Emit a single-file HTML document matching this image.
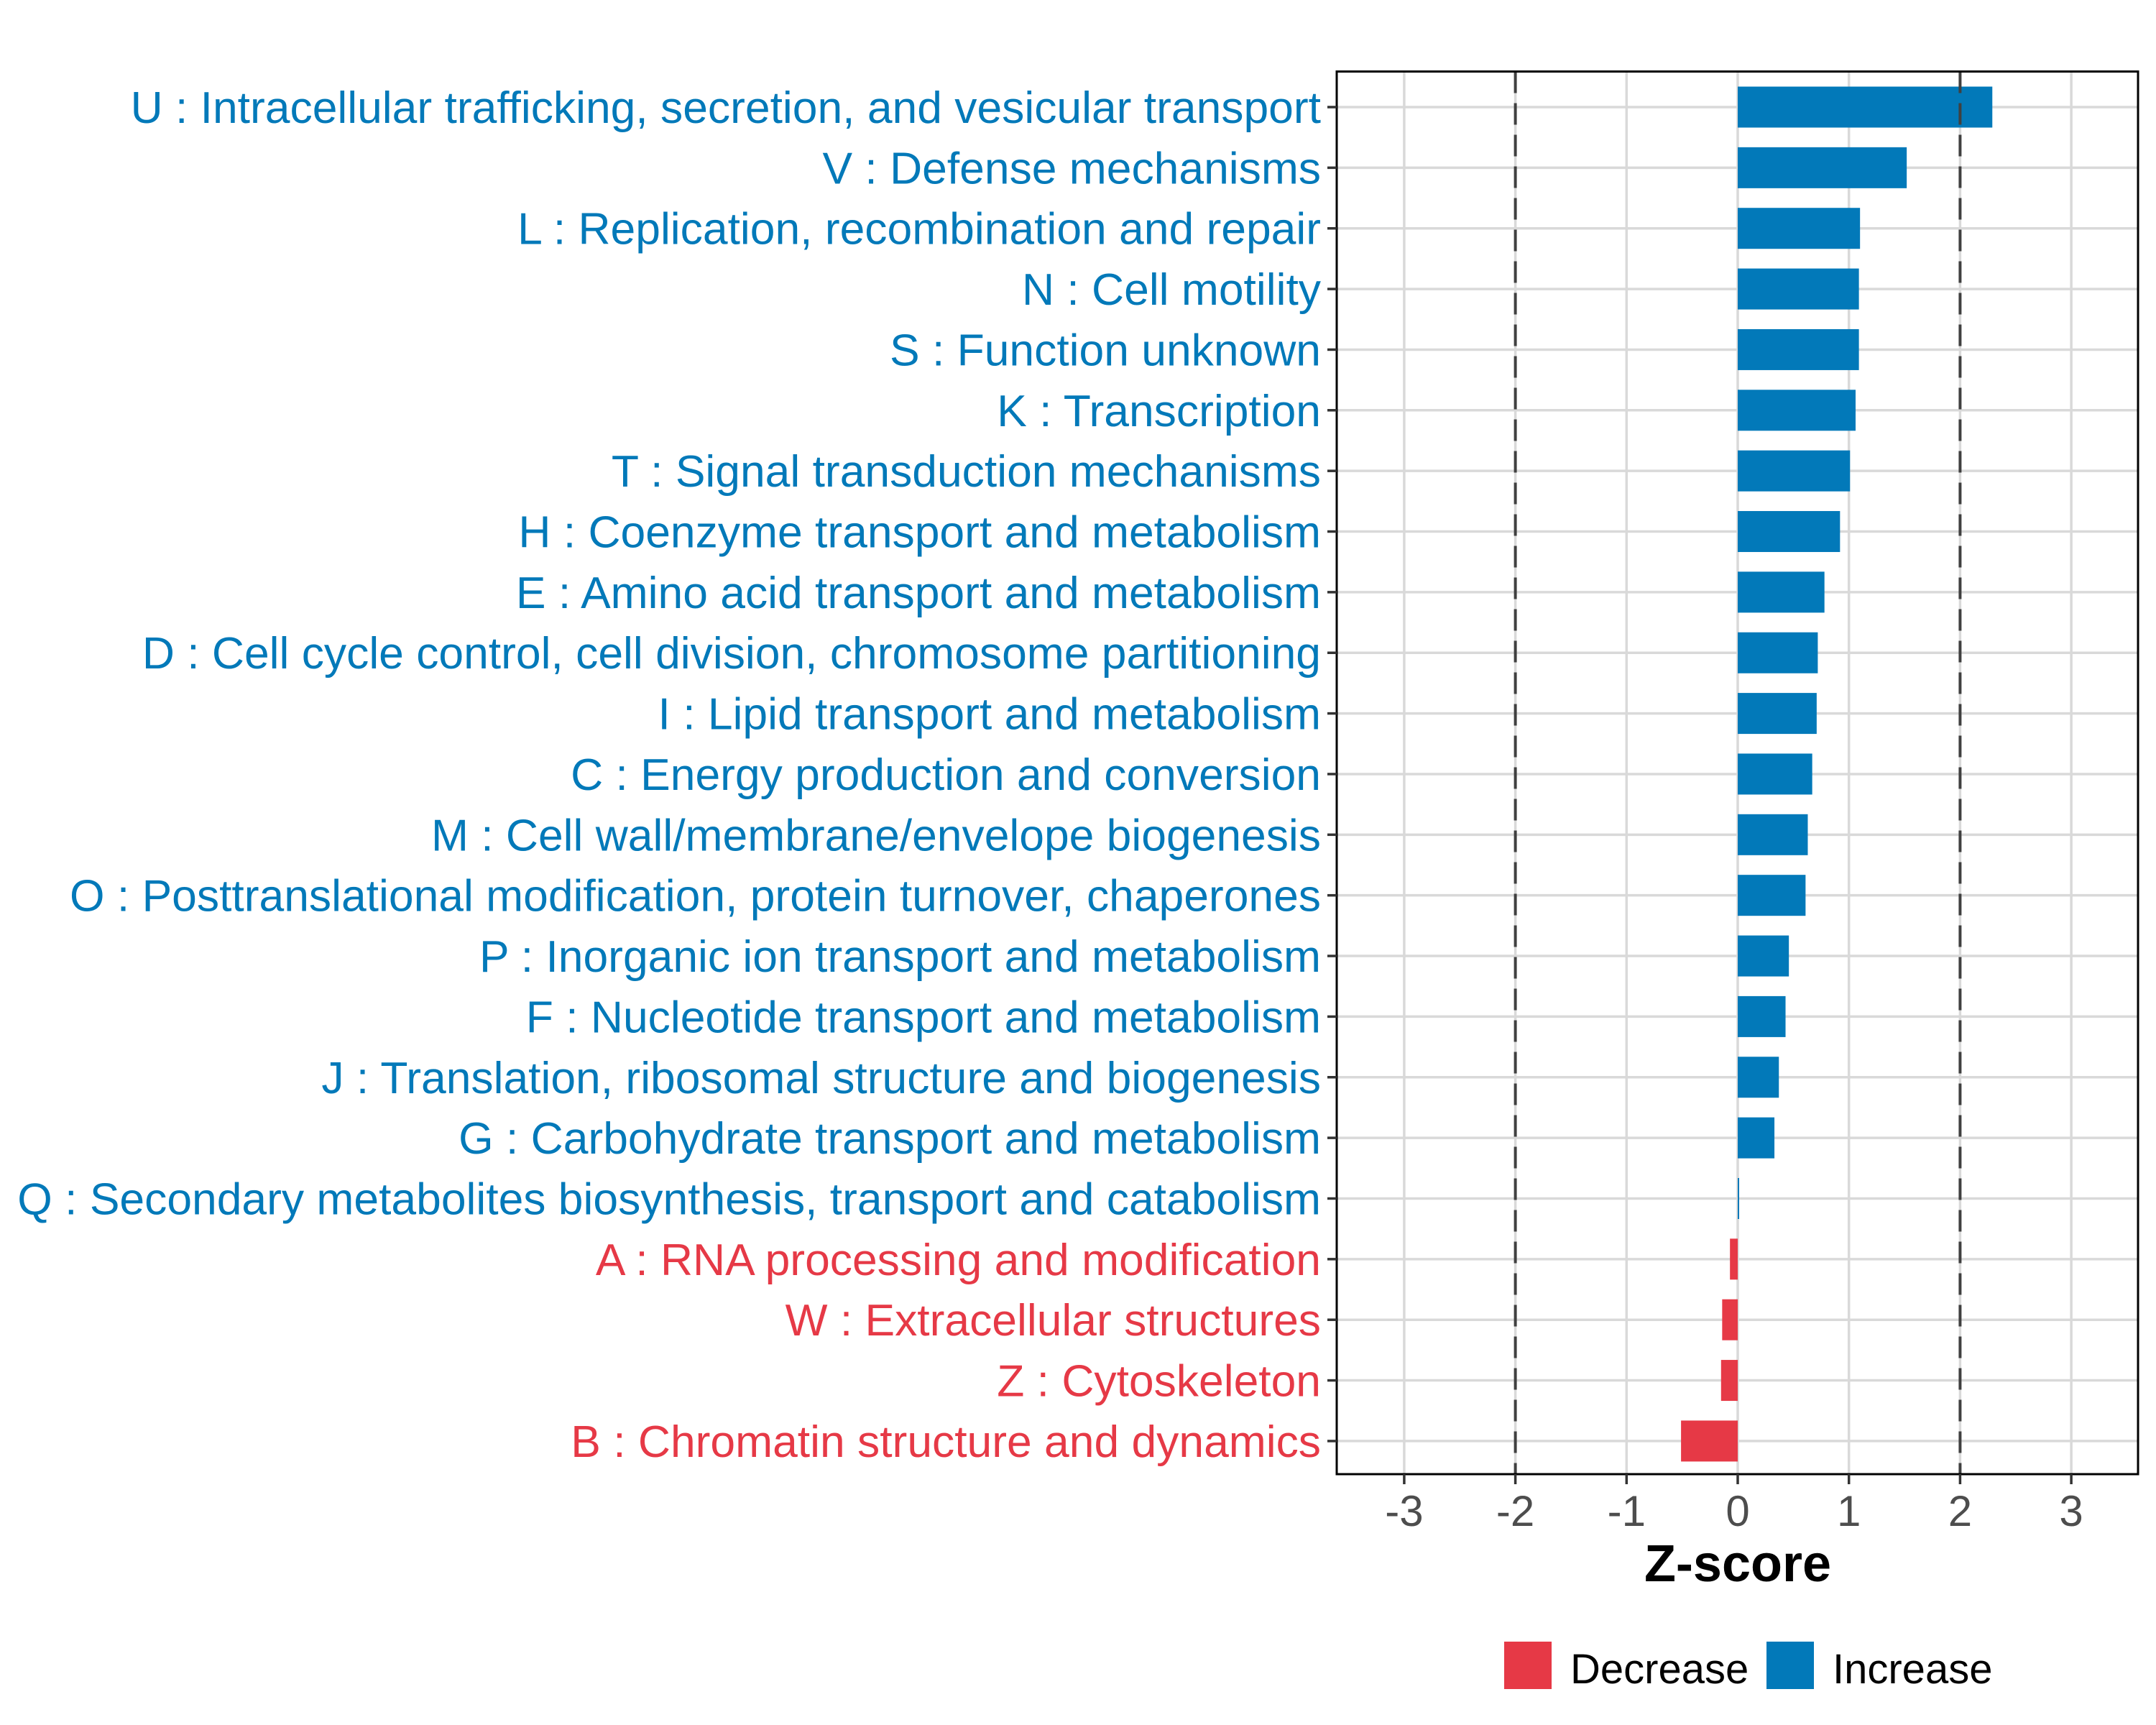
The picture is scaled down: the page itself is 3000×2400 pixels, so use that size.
<!DOCTYPE html>
<html><head><meta charset="utf-8"><style>
html,body{margin:0;padding:0;background:#fff}
svg{display:block}
text{font-family:"Liberation Sans",Arial,sans-serif}
</style></head><body>
<svg id="chart" width="3000" height="2400" viewBox="0 0 3000 2400" xmlns="http://www.w3.org/2000/svg">
<rect x="0" y="0" width="3000" height="2400" fill="#fff"/>
<g id="grid"></g>
<g id="bars"></g>
<g id="refs"></g>
<rect x="1860" y="99.5" width="1115" height="1951.5" fill="none" stroke="#000" stroke-width="3"/>
<g id="ylabels"></g>
<g id="xticks"></g>
<text x="2418" y="2200" font-size="72" font-weight="bold" text-anchor="middle" fill="#000">Z-score</text>
<g>
<rect x="2093" y="2284" width="66" height="66" fill="#E63946"/>
<text x="2185" y="2342" font-size="58" fill="#000">Decrease</text>
<rect x="2458" y="2284" width="66" height="66" fill="#0279B9"/>
<text x="2550" y="2342" font-size="58" fill="#000">Increase</text>
</g>
</svg>
<script>
const categories = ["U : Intracellular trafficking, secretion, and vesicular transport","V : Defense mechanisms","L : Replication, recombination and repair","N : Cell motility","S : Function unknown","K : Transcription","T : Signal transduction mechanisms","H : Coenzyme transport and metabolism","E : Amino acid transport and metabolism","D : Cell cycle control, cell division, chromosome partitioning","I : Lipid transport and metabolism","C : Energy production and conversion","M : Cell wall/membrane/envelope biogenesis","O : Posttranslational modification, protein turnover, chaperones","P : Inorganic ion transport and metabolism","F : Nucleotide transport and metabolism","J : Translation, ribosomal structure and biogenesis","G : Carbohydrate transport and metabolism","Q : Secondary metabolites biosynthesis, transport and catabolism","A : RNA processing and modification","W : Extracellular structures","Z : Cytoskeleton","B : Chromatin structure and dynamics"];
const zscores = [2.29,1.52,1.10,1.09,1.09,1.06,1.01,0.92,0.78,0.72,0.71,0.67,0.63,0.61,0.46,0.43,0.37,0.33,0.01,-0.07,-0.14,-0.15,-0.51];
const xTicks = [-3,-2,-1,0,1,2,3];
const xTickLabels = ["-3","-2","-1","0","1","2","3"];
const refLines = [-2,2];

const NS="http://www.w3.org/2000/svg";
const X0=2418, UNIT=154.7, Y0=149, STEP=84.36, BARH=57;
const PL=1860, PR=2975, PT=99.5, PB=2051;
function xs(v){return X0+v*UNIT;}
function ys(i){return Y0+i*STEP;}
function mk(tag,attrs,parent){const e=document.createElementNS(NS,tag);for(const k in attrs)e.setAttribute(k,attrs[k]);parent.appendChild(e);return e;}
const grid=document.getElementById('grid'),bars=document.getElementById('bars'),refs=document.getElementById('refs'),yl=document.getElementById('ylabels'),xt=document.getElementById('xticks');
xTicks.forEach((t,i)=>{
  const l=mk('line',{x1:xs(t),x2:xs(t),y1:PT,y2:PB,stroke:'#D9D9D9','stroke-width':3.5},grid);
  
  
  const tk=mk('line',{x1:xs(t),x2:xs(t),y1:PB,y2:PB+14,stroke:'#333','stroke-width':3.5},xt);
  
  
  const tx=mk('text',{x:xs(t),y:2123,'font-size':60,'text-anchor':'middle',fill:'#4D4D4D'},xt);
  tx.textContent=xTickLabels[i];
  
  
});
categories.forEach((c,i)=>{
  const y=ys(i), v=zscores[i];
  const g=mk('line',{x1:PL,x2:PR,y1:y,y2:y,stroke:'#D9D9D9','stroke-width':3.5},grid);
  
  
  const col=v<0?'#E63946':'#0279B9';
  const x1=Math.min(xs(0),xs(v)), w=Math.max(Math.abs(xs(v)-xs(0)),2);
  const r=mk('rect',{x:x1,y:y-BARH/2,width:w,height:BARH,fill:col},bars);
  
  
  const tk=mk('line',{x1:PL-13,x2:PL,y1:y,y2:y,stroke:'#333','stroke-width':3.5},yl);
  
  
  const t=mk('text',{x:1838,y:y+22,'font-size':62.4,'text-anchor':'end',fill:col},yl);
  t.textContent=c;
  
  
});
refLines.forEach(v=>{
  const l=mk('line',{x1:xs(v),x2:xs(v),y1:PT,y2:PB,stroke:'#404040','stroke-width':4,'stroke-dasharray':'30 14'},refs);
  
  
});
</script>
</body></html>
